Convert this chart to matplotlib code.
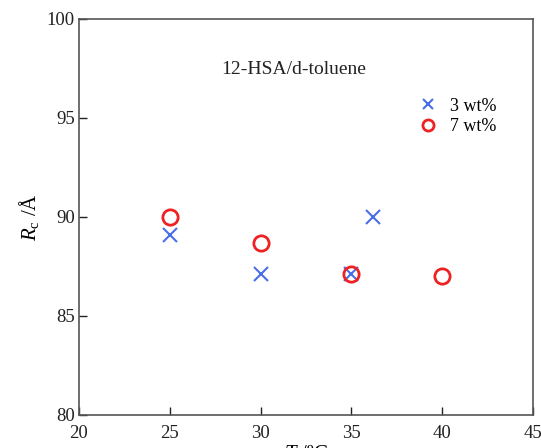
import matplotlib
matplotlib.use("Agg")
import matplotlib.pyplot as plt
from matplotlib.lines import Line2D

T_3 = [25, 30, 35, 36.2]
R_3 = [89.1, 87.1, 87.1, 90.0]
T_7 = [25, 30, 35, 40]
R_7 = [90.0, 88.7, 87.1, 87.0]
xticks = [20, 25, 30, 35, 40, 45]
yticks = [80, 85, 90, 95, 100]

plt.rcParams['font.family'] = ['Liberation Serif', 'DejaVu Serif']
plt.rcParams['mathtext.fontset'] = 'custom'
plt.rcParams['mathtext.rm'] = 'Liberation Serif'
plt.rcParams['mathtext.it'] = 'Liberation Serif:italic'

fig = plt.figure(figsize=(5.41, 4.48), dpi=100)
ax = fig.add_axes([79/541, 1-415/448, (533-79)/541, (415-19)/448])

blue = '#4a6ee8'
red = '#ee2222'
ax.plot(T_3, R_3, 'x', color=blue, markersize=10, markeredgewidth=1.5, linestyle='none')
ax.plot(T_7, R_7, 'o', color=red, markersize=11, markerfacecolor='none', markeredgewidth=2.0, linestyle='none')

ax.set_xlim(20, 45)
ax.set_ylim(80, 100)
ax.set_xticks(xticks)
ax.set_yticks(yticks)
ax.tick_params(direction='in', length=6, width=1, labelsize=13.5, colors='#222222', top=False, right=False)
ax.tick_params(axis='x', pad=7)
ax.tick_params(axis='y', pad=3)
for s in ax.spines.values():
    s.set_color('#555555')
    s.set_linewidth(1.2)

ax.set_xlabel(r'$T$ /ºC', fontsize=15, labelpad=2)
ax.set_ylabel(r'$R_{\rm c}$ /Å', fontsize=15, labelpad=4)

ax.text(0.472, 0.872, '12-HSA/d-toluene', transform=ax.transAxes, ha='center', va='center', fontsize=14, color='#222222')

handles = [Line2D([], [], marker='x', color=blue, linestyle='none', markersize=7, markeredgewidth=1.5),
           Line2D([], [], marker='o', color=red, markerfacecolor='none', linestyle='none', markersize=8, markeredgewidth=2.0)]
ax.legend(handles, ['3 wt%', '7 wt%'], loc='upper left', bbox_to_anchor=(0.73, 0.82), frameon=False, fontsize=13,
          handletextpad=0.6, labelspacing=0.2, handlelength=1.2, borderaxespad=0)

fig.savefig('out.png', dpi=100)
